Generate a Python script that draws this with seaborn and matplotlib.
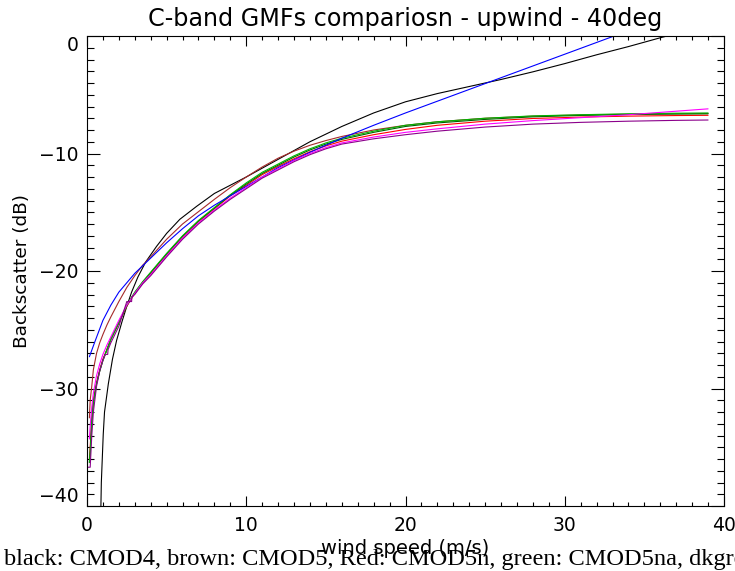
import numpy as np
import pandas as pd
import matplotlib
matplotlib.use("Agg")
import matplotlib.pyplot as plt
import seaborn as sns
from matplotlib.ticker import MultipleLocator

# ---------------- data ----------------
title = "C-band GMFs compariosn - upwind - 40deg"
xlabel = "wind speed (m/s)"
ylabel = "Backscatter (dB)"
caption = "black: CMOD4, brown: CMOD5, Red: CMOD5n, green: CMOD5na, dkgreen"

wind_cmod4 = [0.86, 0.9, 1.02, 1.1, 1.34, 1.6, 1.86, 2.2, 2.5, 2.8, 3.2, 3.7, 4.37,
              5.0, 5.83, 6.88, 8.0, 10.0, 12.0, 14.0, 16.0, 18.0, 20.0, 22.0, 24.0,
              26.0, 28.0, 30.0, 32.0, 34.0, 36.0, 38.0]
sigma_cmod4 = [-41.0, -38.0, -33.9, -32.0, -29.6, -27.5, -25.9, -24.3, -23.0, -21.8,
               -20.5, -19.2, -17.9, -16.8, -15.6, -14.5, -13.4, -12.0, -10.5, -9.0,
               -7.7, -6.55, -5.6, -4.9, -4.3, -3.7, -3.05, -2.35, -1.6, -0.9,
               -0.15, 0.55]

wind_grid = [0.15, 0.2, 0.3, 0.4, 0.6, 0.8, 1.0, 1.25, 1.5, 2.0, 2.5, 3.0, 3.5, 4.0,
             5.0, 6.0, 7.0, 8.0, 9.0, 10.0, 11.0, 12.0, 13.0, 14.0, 15.0, 16.0,
             18.0, 20.0, 22.0, 25.0, 28.0, 31.0, 34.0, 37.0, 39.0]
sigma_cmod5 = [-32.5, -31.0, -29.8, -28.4, -27.0, -26.1, -25.4, -24.6, -23.9, -22.6,
               -21.4, -20.4, -19.5, -18.8, -17.3, -16.0, -14.95, -13.9, -12.9, -12.0,
               -11.15, -10.4, -9.8, -9.3, -8.9, -8.55, -8.0, -7.6, -7.3, -7.0,
               -6.82, -6.72, -6.66, -6.62, -6.6]
sigma_cmod5n = [-36.0, -35.0, -32.5, -31.0, -29.5, -28.4, -27.5, -26.7, -25.8, -24.4,
                -23.0, -21.9, -21.0, -20.2, -18.6, -17.1, -15.8, -14.7, -13.6, -12.7,
                -11.8, -11.1, -10.45, -9.85, -9.35, -8.95, -8.4, -7.95, -7.6, -7.25,
                -7.02, -6.9, -6.82, -6.77, -6.75]
sigma_cmod5na = [-36.3, -35.5, -32.8, -31.2, -29.6, -28.5, -27.6, -26.7, -25.8, -24.4,
                 -22.9, -21.8, -20.9, -20.1, -18.5, -17.0, -15.7, -14.6, -13.5, -12.5,
                 -11.6, -10.9, -10.2, -9.6, -9.1, -8.7, -8.1, -7.6, -7.3, -7.0,
                 -6.8, -6.7, -6.62, -6.57, -6.55]
sigma_dkgreen = [-36.3, -35.4, -32.7, -31.1, -29.6, -28.5, -27.6, -26.7, -25.8, -24.4,
                 -22.95, -21.85, -20.95, -20.15, -18.55, -17.05, -15.75, -14.65, -13.55,
                 -12.6, -11.7, -11.0, -10.3, -9.7, -9.2, -8.8, -8.2, -7.7, -7.4, -7.1,
                 -6.88, -6.76, -6.68, -6.64, -6.62]
sigma_magenta = [-34.3, -33.2, -31.6, -30.4, -28.9, -27.9, -27.1, -26.3, -25.6, -24.2,
                 -22.9, -21.9, -21.0, -20.3, -18.7, -17.2, -15.9, -14.8, -13.8, -12.9,
                 -12.0, -11.3, -10.6, -10.0, -9.5, -9.1, -8.6, -8.2, -7.9, -7.5,
                 -7.2, -6.95, -6.7, -6.4, -6.2]

wind_blue = [0.15, 0.5, 1.0, 1.5, 2.0, 3.0, 4.0, 5.0, 6.0, 7.0, 8.0, 10.0, 12.0, 14.0,
             16.0, 18.0, 20.0, 22.0, 24.0, 26.0, 28.0, 30.0, 32.0, 34.0]
sigma_blue = [-27.3, -26.0, -24.2, -22.9, -21.8, -20.2, -18.9, -17.6, -16.4, -15.3,
              -14.4, -12.8, -11.2, -9.9, -8.7, -7.6, -6.55, -5.55, -4.55, -3.55, -2.55,
              -1.55, -0.55, 0.45]

wind_purple = [0.0, 0.2, 0.3, 0.4, 0.6, 0.8, 1.0, 1.15, 1.3, 1.32, 1.5, 2.0, 2.5, 2.8,
               2.82, 3.0, 3.5, 4.0, 5.0, 6.0, 7.0, 8.0, 9.0, 10.0, 11.0, 12.0, 13.0,
               14.0, 15.0, 16.0, 18.0, 20.0, 22.0, 25.0, 28.0, 31.0, 34.0, 37.0, 39.0]
sigma_purple = [-36.7, -36.7, -34.0, -32.0, -29.8, -28.5, -27.6, -27.1, -27.1, -26.7,
                -26.1, -24.7, -22.6, -22.6, -22.2, -22.0, -21.1, -20.4, -18.8, -17.3,
                -16.0, -14.9, -13.9, -13.0, -12.1, -11.4, -10.7, -10.1, -9.6, -9.2,
                -8.75, -8.4, -8.1, -7.75, -7.5, -7.35, -7.25, -7.18, -7.15]

models = ["CMOD4", "CMOD5", "CMOD5n", "dkgreen", "CMOD5na", "blue", "magenta", "purple"]
colors = ["black", "#a52a2a", "#ff0000", "#006400", "#00b400", "#0000ff", "#ff00ff", "#8b008b"]
winds = [wind_cmod4, wind_grid, wind_grid, wind_grid, wind_grid, wind_blue, wind_grid, wind_purple]
sigmas = [sigma_cmod4, sigma_cmod5, sigma_cmod5n, sigma_dkgreen, sigma_cmod5na,
          sigma_blue, sigma_magenta, sigma_purple]

df = pd.concat([pd.DataFrame({"wind": w, "sigma0": s, "model": m})
                for m, w, s in zip(models, winds, sigmas)], ignore_index=True)

# ---------------- figure ----------------
sns.set_theme(style="ticks")
plt.rcParams["font.family"] = ["DejaVu Sans"]
plt.rcParams["axes.unicode_minus"] = True

fig = plt.figure(figsize=(7.35, 5.71), dpi=100)
W, H = 735, 571
ax = fig.add_axes([87 / W, 1 - 506 / H, (724 - 87) / W, (506 - 36) / H])

sns.lineplot(data=df, x="wind", y="sigma0", hue="model", hue_order=models,
             palette=dict(zip(models, colors)), estimator=None, sort=False,
             legend=False, linewidth=0.8, ax=ax)

ax.set_xlim(0, 40)
ax.set_ylim(-40, 0)
ax.xaxis.set_major_locator(MultipleLocator(10))
ax.xaxis.set_minor_locator(MultipleLocator(1))
ax.yaxis.set_major_locator(MultipleLocator(10))
ax.yaxis.set_minor_locator(MultipleLocator(1))
ax.tick_params(which="both", direction="in", top=True, right=True,
               color="black", width=0.8, labelsize=13.5, labelcolor="black")
ax.tick_params(axis="x", which="major", length=7.2, pad=7)
ax.tick_params(axis="x", which="minor", length=3)
ax.tick_params(axis="y", which="major", length=9.4, pad=6)
ax.tick_params(axis="y", which="minor", length=5)
for sp in ax.spines.values():
    sp.set_color("black")
    sp.set_linewidth(0.8)

ax.set_title(title, fontsize=17.2, color="black", pad=7)
ax.set_xlabel(xlabel, fontsize=14, color="black", va="center")
ax.xaxis.set_label_coords(0.5, (506 - 548) / 470)
ax.set_ylabel(ylabel, fontsize=13.3, color="black", va="center")
ax.yaxis.set_label_coords((22 - 87) / 637, 0.5)

fig.text(4 / W, 1 - 565 / H, caption, family=["Liberation Serif"], fontsize=17.6,
         color="black", ha="left", va="baseline")

fig.canvas.draw()
yticks = ax.yaxis.get_major_ticks()
yvals = ax.get_yticks()
for t, v in zip(yticks, yvals):
    if np.isclose(v, 0):
        t.label1.set_verticalalignment("top")
    elif np.isclose(v, -40):
        t.label1.set_verticalalignment("bottom")

fig.savefig("out.png", dpi=100, facecolor="white")
